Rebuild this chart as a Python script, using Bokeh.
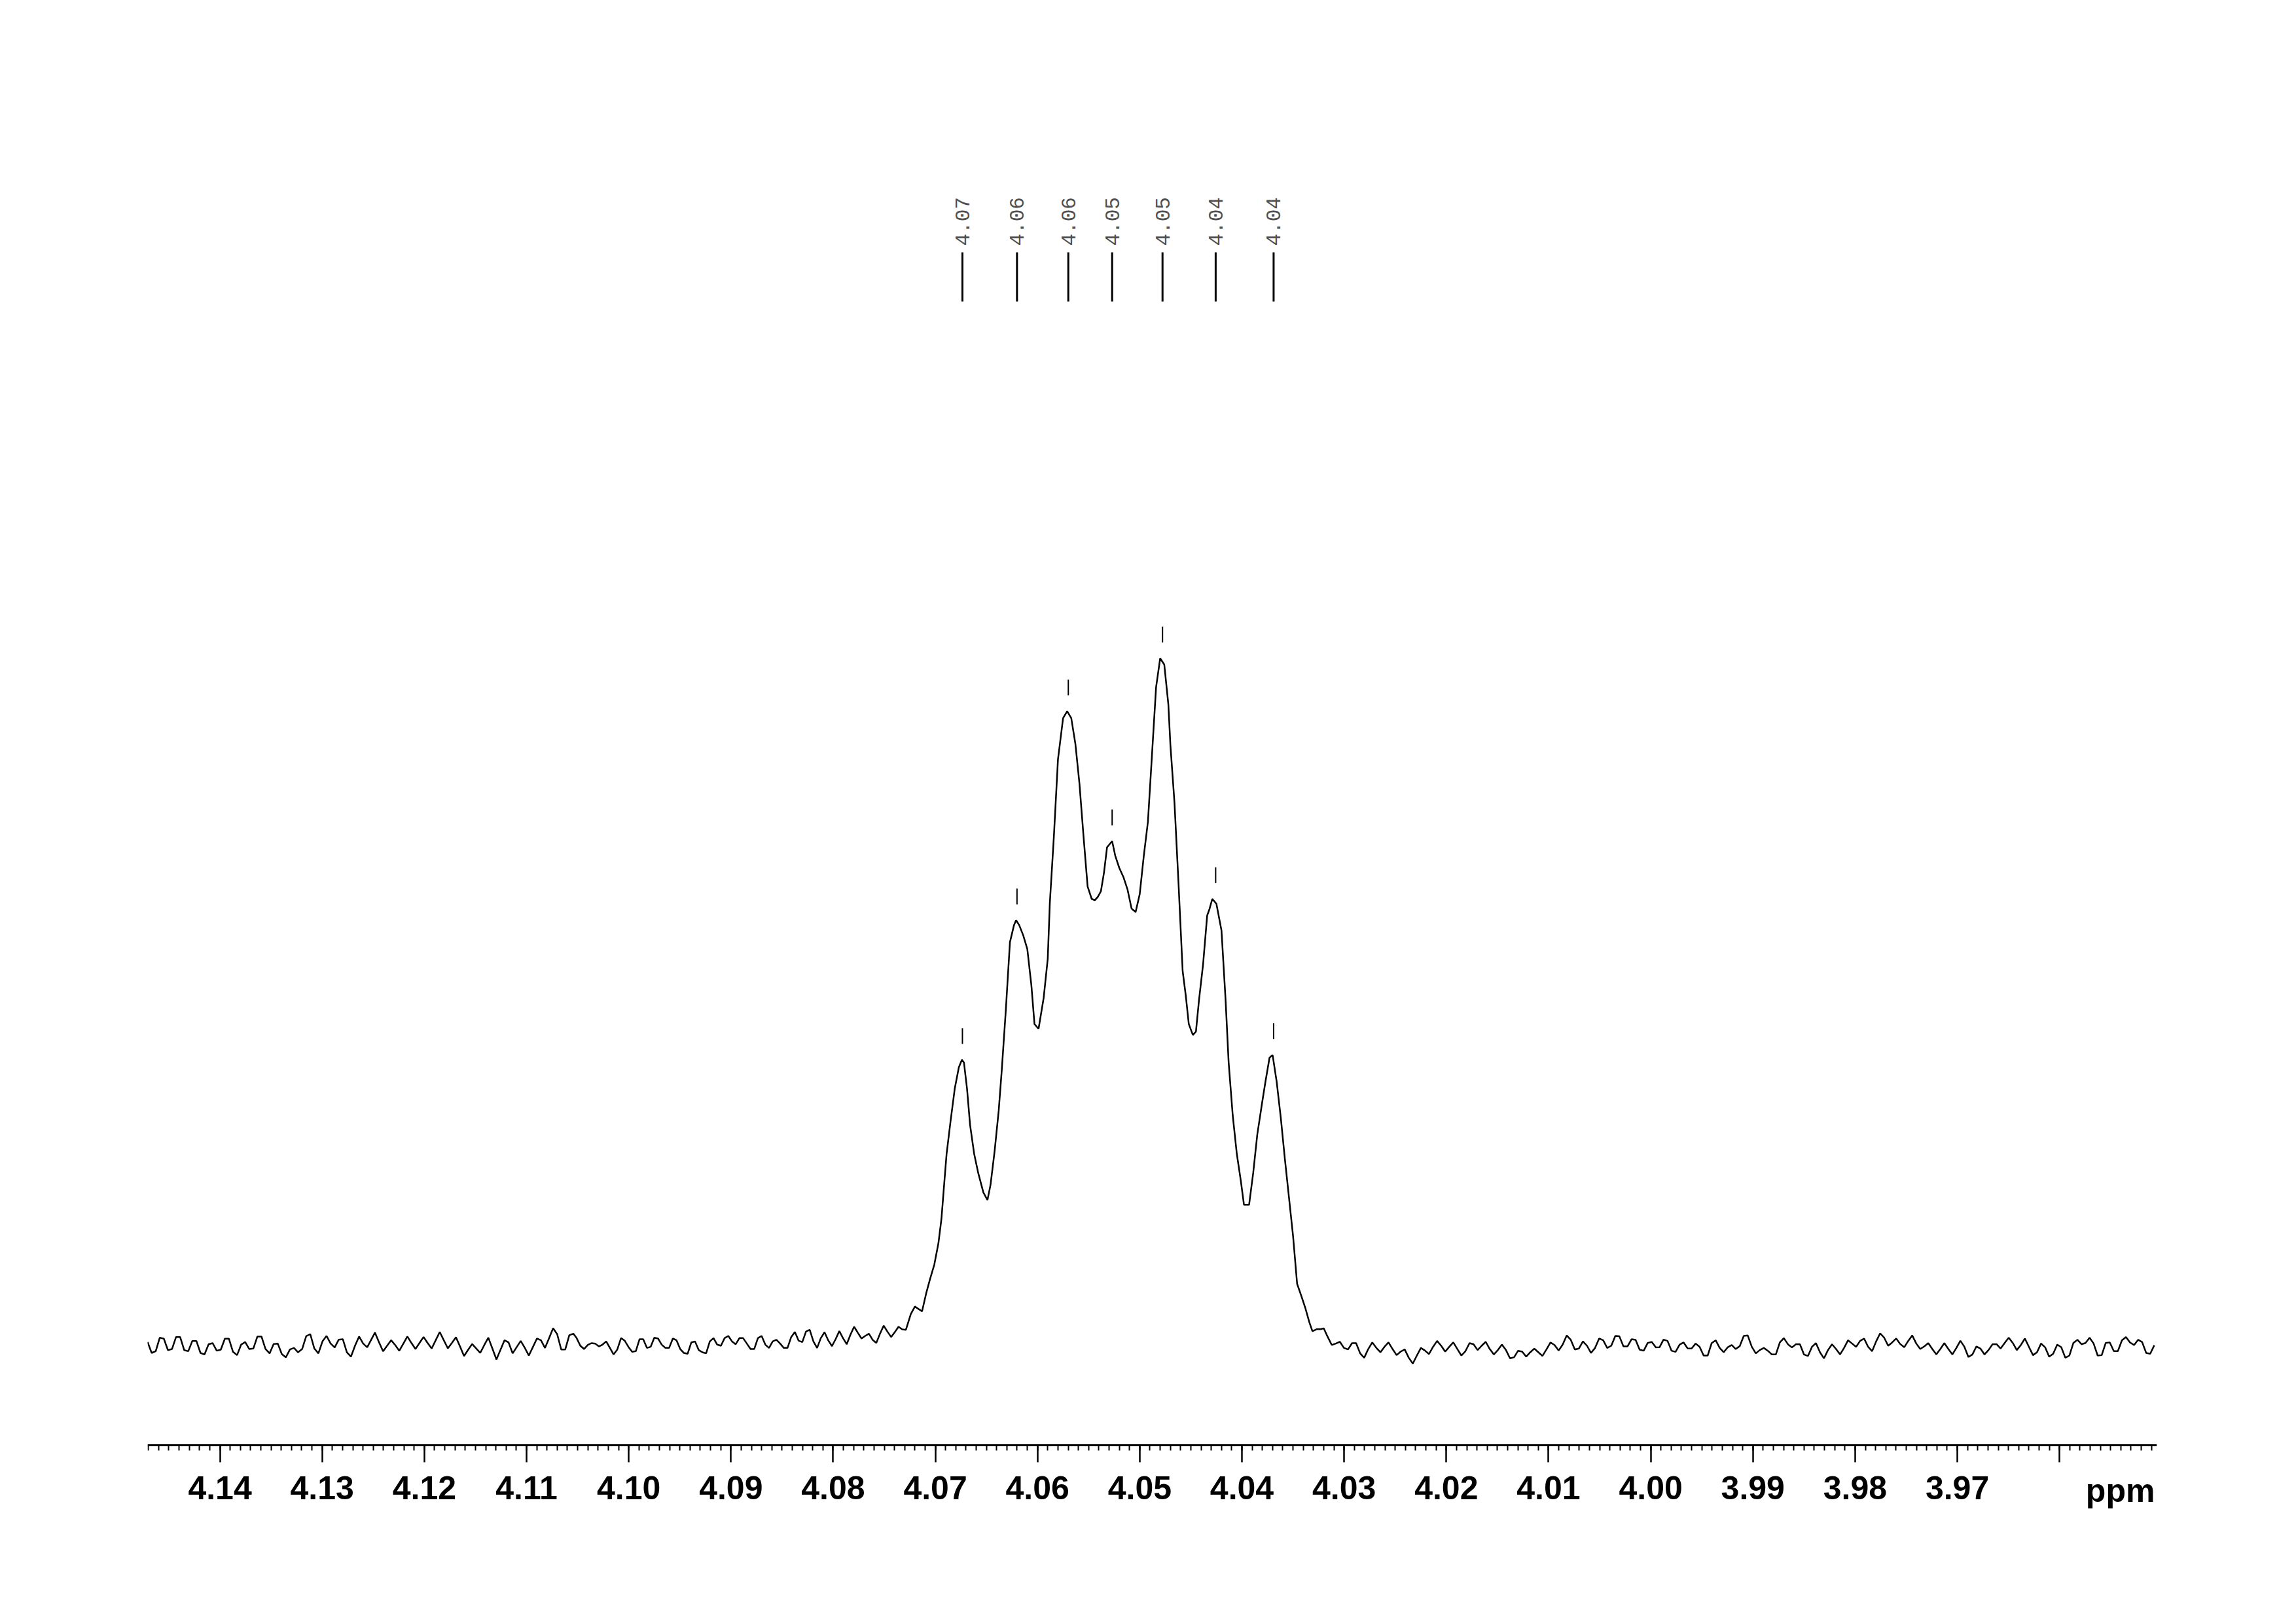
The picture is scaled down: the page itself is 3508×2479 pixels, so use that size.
import numpy as np
from bokeh.plotting import figure
from bokeh.models import Range1d, FixedTicker, NumeralTickFormatter
from bokeh.embed import file_html
from bokeh.resources import INLINE
from bokeh.core.properties import value

# ---------------- data ----------------
# baseline noise segments: (ppm start, ppm end) and intensities on evenly spaced points
seg_a_range = (4.14708, 4.12559)
seg_a = [0.54, -1.05, -0.8, 1.18, 1.02, -0.64, -0.48, 1.27, 1.27, -0.64, -0.8, 0.7, 0.7,
         -1.05, -1.27, 0.22, 0.38, -0.73, -0.57, 1.02, 1.02, -0.89, -1.37, 0.16, 0.54, -0.48,
         -0.41, 1.34, 1.34, -0.48, -1.11, 0.25, 0.32, -1.21, -1.69, -0.54, -0.32, -0.96, -0.48,
         1.4, 1.69, -0.41, -1.11, 0.64, 1.43, 0.32, -0.25, 0.89, 0.96, -0.96, -1.59, 0.0, 1.34,
         0.32, -0.22]
seg_b_range = (4.12483, 4.10542)
seg_b = [1.91, 0.5, -0.8, 0.0, 0.8, 0.1, -0.73, 0.3, 1.34, 0.4,
         -0.48, 0.4, 1.27, 0.4, -0.41, 0.8, 2.0, 0.8, -0.38, 0.4,
         1.24, -0.1, -1.5, -0.6, 0.25, -0.4, -1.05, 0.1, 1.18, -0.4,
         -2.0, -0.6, 0.8, 0.48, -1.11, -0.2, 0.7, -0.3, -1.43, -0.2,
         1.05, 0.8, -0.32, 1.1, 2.55, 1.69, -0.54, -0.54, 1.53, 1.75]
seg_c_range = (4.10510, 4.07288)
seg_c = [1.11, 0.0, -0.48, 0.1, 0.38, 0.32, -0.1, 0.16, 0.63, -0.32,
         -1.27, -0.54, 1.11, 0.73, -0.16, -0.89, -0.79, 0.95, 0.95, -0.32,
         -0.16, 1.17, 1.05, 0.16, -0.32, -0.32, 1.05, 0.79, -0.48, -1.05,
         -1.17, 0.48, 0.63, -0.63, -0.95, -1.11, 0.63, 1.11, 0.16, 0.0,
         1.11, 1.43, 0.63, 0.22, 1.11, 1.11, 0.32, -0.48, -0.48, 1.11,
         1.43, 0.16, -0.32, 0.63, 0.86, 0.32, -0.32, -0.32, 1.27, 2.0,
         0.73, 0.54, 2.06, 2.32, 0.63, -0.32, 1.11, 1.97, 0.79, -0.06,
         0.95, 2.13, 1.11, 0.22, 1.59, 2.76, 1.9, 1.05, 1.43, 1.75,
         0.86, 0.41, 1.75, 2.92, 2.06, 1.27, 1.97, 2.76, 2.38, 2.32]

# multiplet region: explicit ppm positions and intensities
peak_ppm_pts = [4.0724, 4.0720, 4.0713, 4.0709, 4.0705, 4.0701, 4.0697, 4.0694, 4.0692, 4.0689,
                4.0685, 4.0681, 4.0677, 4.0674, 4.0672, 4.0669, 4.0666, 4.0662, 4.0658, 4.0653,
                4.0649, 4.0646, 4.0642, 4.0638, 4.0635, 4.0631, 4.0627, 4.0623, 4.0621, 4.0618,
                4.0614, 4.0610, 4.0606, 4.0603, 4.0599, 4.0597, 4.0594, 4.0590, 4.0588, 4.0584,
                4.0580, 4.0575, 4.0571, 4.0567, 4.0563, 4.0559, 4.0555, 4.0551, 4.0547, 4.0544,
                4.0541, 4.0538, 4.0535, 4.0532, 4.0527, 4.0524, 4.0520, 4.0516, 4.0512, 4.0508,
                4.0504, 4.0500, 4.0496, 4.0492, 4.0488, 4.0484, 4.0480, 4.0476, 4.0472, 4.0470,
                4.0466, 4.0462, 4.0458, 4.0455, 4.0452, 4.0448, 4.0445, 4.0442, 4.0438, 4.0434,
                4.0432, 4.0429, 4.0425, 4.0420, 4.0416, 4.0413, 4.0409, 4.0405, 4.0401, 4.0398,
                4.0393, 4.0389, 4.0385, 4.0380, 4.0377, 4.0373, 4.0370, 4.0366, 4.0362, 4.0358,
                4.0354, 4.0350, 4.0346, 4.0342, 4.0338, 4.0334, 4.0331, 4.0327, 4.0323]
peak_int_pts = [4.6, 5.7, 5.0, 7.6, 9.8, 11.8, 14.9, 18.5, 22.3, 27.9,
                32.8, 37.4, 40.5, 41.6, 41.2, 37.4, 32.1, 27.9, 25.1, 22.3,
                21.2, 23.4, 28.3, 34.2, 40.1, 48.9, 58.7, 61.2, 61.9, 61.2,
                59.7, 57.7, 52.4, 46.8, 46.1, 47.9, 50.6, 56.3, 64.3, 74.1,
                85.3, 91.3, 92.3, 91.3, 87.6, 81.8, 74.1, 66.8, 65.0, 64.8,
                65.3, 66.1, 68.8, 72.5, 73.4, 71.3, 69.5, 68.2, 66.4, 63.6,
                63.1, 65.7, 71.3, 76.2, 86.0, 95.8, 100.0, 99.1, 93.3, 87.4,
                79.0, 67.1, 54.5, 51.0, 46.8, 45.2, 45.7, 50.3, 55.5, 62.6,
                63.4, 65.0, 64.3, 60.4, 50.3, 41.2, 33.5, 27.9, 23.9, 20.5,
                20.5, 25.1, 30.7, 35.6, 38.4, 41.9, 42.3, 38.4, 33.2, 27.2,
                21.6, 16.0, 9.0, 7.3, 5.5, 3.4, 2.1, 2.4, 2.4]

seg_e_range = (4.03200, 3.99950)
seg_e = [2.54, 1.27, 0.1, 0.32, 0.57, -0.32, -0.54, 0.38, 0.38, -1.11,
         -1.75, -0.48, 0.48, -0.32, -0.95, -0.16, 0.48, -0.48, -1.37, -0.86,
         -0.54, -1.75, -2.6, -1.43, -0.32, -0.7, -1.21, -0.16, 0.7, 0.0,
         -0.86, -0.16, 0.48, -0.48, -1.43, -0.79, 0.38, 0.22, -0.63, 0.0,
         0.57, -0.48, -1.27, -0.63, 0.16, -0.63, -1.84, -1.68, -0.73, -0.86,
         -1.59, -0.95, -0.41, -0.95, -1.49, -0.54, 0.48, 0.1, -0.7, 0.16,
         1.49, 0.86, -0.54, -0.41, 0.63, 0.0, -1.05, -0.32, 1.05, 0.79,
         -0.32, 0.0, 1.43, 1.37, -0.1, -0.1, 0.95, 0.86, -0.57, -0.73,
         0.41, 0.54, -0.25]
seg_f_range = (3.99914, 3.96813)
seg_f = [-0.22, 0.89, 0.7, -0.73, -0.89, 0.16, 0.48, -0.38, -0.41, 0.32,
         -0.16, -1.43, -1.43, 0.38, 0.79, -0.32, -0.95, -0.22, 0.1, -0.48,
         -0.06, 1.43, 1.49, -0.16, -1.11, -0.63, -0.32, -0.73, -1.27, -1.27,
         0.48, 1.11, 0.22, -0.25, 0.22, 0.22, -1.27, -1.49, -0.16, 0.38,
         -0.95, -1.84, -0.63, 0.22, -0.48, -1.27, -0.32, 0.79, 0.32, -0.16,
         0.7, 1.05, -0.16, -0.79, 0.63, 1.81, 1.17, 0.0, 0.48, 1.05,
         0.25, -0.22, 0.7, 1.49, 0.32, -0.48, -0.1, 0.38, -0.48, -1.27,
         -0.48, 0.38, -0.48, -1.27, -0.32, 0.73, -0.16, -1.65, -1.27, -0.1]
seg_g_range = (3.96774, 3.95073)
seg_g = [-0.41, -1.27, -0.63, 0.22, 0.22, -0.41, 0.41, 1.17, 0.41, -0.63,
         0.1, 1.05, -0.16, -1.37, -0.95, 0.32, -0.22, -1.59, -1.17, 0.16,
         -0.22, -1.75, -1.43, 0.41, 0.86, 0.22, 0.41, 1.17, 0.32, -1.43,
         -1.37, 0.41, 0.48, -0.79, -0.79, 0.79, 1.27, 0.48, 0.1, 0.86,
         0.54, -1.05, -1.17, 0.06]

# picked peaks
peak_ppm = [4.06735, 4.06201, 4.05699, 4.05270, 4.04777, 4.04257, 4.03690]
peak_height = [41.6, 61.9, 92.3, 73.4, 100.0, 65.0, 42.3]
peak_labels = ["%.2f" % v for v in peak_ppm]

# axis
major_ticks = [4.14, 4.13, 4.12, 4.11, 4.10, 4.09, 4.08, 4.07, 4.06, 4.05, 4.04,
               4.03, 4.02, 4.01, 4.00, 3.99, 3.98, 3.97, 3.96]
minor_ticks = [round(3.951 + 0.001 * i, 3) for i in range(197)]
unit_label = "ppm"
x_lo, x_hi = 4.14708, 3.95047
y_lo, y_hi = -27.429, 194.952
axis_y = -14.476

# ---------------- assemble spectrum ----------------
def seg(rng, vals):
    return list(np.linspace(rng[0], rng[1], len(vals))), list(vals)

xs, ys = [], []
for rng, vals in [(seg_a_range, seg_a), (seg_b_range, seg_b), (seg_c_range, seg_c)]:
    sx, sy = seg(rng, vals)
    xs += sx; ys += sy
xs += peak_ppm_pts; ys += peak_int_pts
for rng, vals in [(seg_e_range, seg_e), (seg_f_range, seg_f), (seg_g_range, seg_g)]:
    sx, sy = seg(rng, vals)
    xs += sx; ys += sy

p = figure(width=3490, height=2463, output_backend="svg", toolbar_location=None,
           x_range=Range1d(x_lo, x_hi), y_range=Range1d(y_lo, y_hi),
           y_axis_location=None,
           min_border_left=225, min_border_right=195, min_border_top=8,
           min_border_bottom=120)
p.grid.visible = False
p.outline_line_color = None
p.background_fill_color = "white"
p.border_fill_color = "white"

p.line(xs, ys, line_color="black", line_width=2.5)

# peak marker ticks above each peak
p.segment(x0=peak_ppm, y0=[h + 2.3 for h in peak_height],
          x1=peak_ppm, y1=[h + 4.6 for h in peak_height],
          line_color="black", line_width=2)

# peak label lines and rotated labels
p.segment(x0=peak_ppm, y0=[151.9] * len(peak_ppm), x1=peak_ppm, y1=[159.05] * len(peak_ppm),
          line_color="black", line_width=3)
p.text(x=peak_ppm, y=[160.0] * len(peak_ppm), text=peak_labels, angle=np.pi / 2,
       text_align="left", text_baseline="middle",
       text_font=value("Liberation Mono"), text_font_size="31px", text_color="#505050")

xa = p.xaxis[0]
xa.fixed_location = axis_y
xa.ticker = FixedTicker(ticks=major_ticks, minor_ticks=minor_ticks)
xa.formatter = NumeralTickFormatter(format="0.00")
xa.major_label_overrides = {3.96: ""}
xa.major_label_text_font = "Liberation Sans"
xa.major_label_text_font_style = "bold"
xa.major_label_text_font_size = "50px"
xa.major_label_text_color = "black"
xa.major_label_standoff = 22
xa.major_tick_in = 0
xa.major_tick_out = 26
xa.minor_tick_in = 0
xa.minor_tick_out = 8
xa.axis_line_width = 3
xa.major_tick_line_width = 2.5
xa.minor_tick_line_width = 2
xa.axis_line_color = "black"

# unit label at the right end of the axis
p.text(x=[3.95067], y=[-21.14], text=[unit_label], text_align="right",
       text_baseline="alphabetic", text_font=value("Liberation Sans"),
       text_font_style="bold", text_font_size="50px", text_color="black")

open("out.html", "w").write(file_html(p, INLINE))
